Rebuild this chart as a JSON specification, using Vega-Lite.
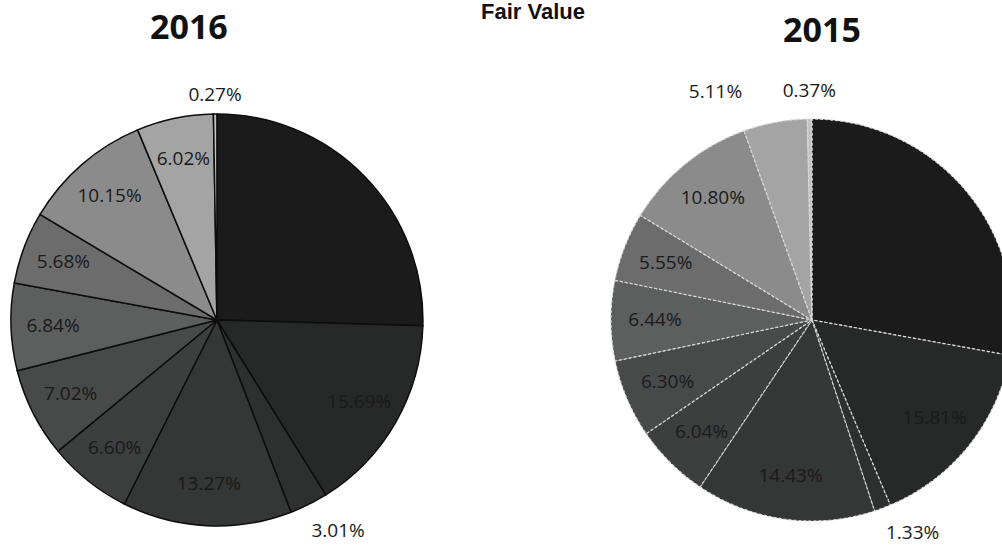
{
  "$schema": "https://vega.github.io/schema/vega-lite/v6.json",
  "width": 1002,
  "height": 462,
  "autosize": {"type": "none"},
  "padding": {"top": 89, "left": 0, "right": 0, "bottom": 0},
  "background": "#ffffff",
  "config": {"view": {"stroke": null}},
  "title": {
    "text": "Fair Value",
    "font": "Liberation Sans",
    "fontSize": 22,
    "fontWeight": "bold",
    "color": "#111111",
    "anchor": "middle",
    "frame": "group",
    "baseline": "alphabetic",
    "offset": -29,
    "dx": 32
  },
  "encoding": {
    "x": {
      "field": "year",
      "type": "nominal",
      "axis": null,
      "scale": {"type": "point", "domain": [2016, 2015], "padding": 0.342, "align": 0.533}
    }
  },
  "layer": [
    {
      "data": {
        "values": [
          {"year": 2016, "idx": 1, "pct": 0.2545},
          {"year": 2016, "idx": 2, "pct": 0.1569},
          {"year": 2016, "idx": 3, "pct": 0.0301},
          {"year": 2016, "idx": 4, "pct": 0.1327},
          {"year": 2016, "idx": 5, "pct": 0.0660},
          {"year": 2016, "idx": 6, "pct": 0.0702},
          {"year": 2016, "idx": 7, "pct": 0.0684},
          {"year": 2016, "idx": 8, "pct": 0.0568},
          {"year": 2016, "idx": 9, "pct": 0.1015},
          {"year": 2016, "idx": 10, "pct": 0.0602},
          {"year": 2016, "idx": 11, "pct": 0.0027}
        ]
      },
      "encoding": {
        "theta": {"field": "pct", "type": "quantitative", "stack": true},
        "order": {"field": "idx", "type": "quantitative"}
      },
      "layer": [
        {
          "mark": {"type": "arc", "outerRadius": 206, "stroke": "#0d0d0d", "strokeWidth": 1.5},
          "encoding": {
            "color": {
              "field": "idx",
              "type": "nominal",
              "legend": null,
              "scale": {
                "domain": [1, 2, 3, 4, 5, 6, 7, 8, 9, 10, 11],
                "range": ["#1b1b1b", "#272828", "#2e2f2f", "#353636", "#3d3e3e", "#484949", "#5d5e5e", "#6c6c6c", "#8b8b8b", "#a4a4a4", "#c4c4c4"]
              }
            }
          }
        },
        {
          "mark": {"type": "text", "radius": 164, "font": "Open Sans", "fontSize": 19, "color": "#1a1a1a", "align": "center", "baseline": "middle"},
          "encoding": {
            "detail": {"field": "idx", "type": "nominal"},
            "text": {"condition": {"test": "datum.pct >= 0.035", "field": "pct", "format": ".2%"}, "value": ""}
          }
        },
        {
          "mark": {"type": "text", "radius": 225, "font": "Open Sans", "fontSize": 19, "color": "#1a1a1a", "align": "center", "baseline": "middle"},
          "encoding": {
            "detail": {"field": "idx", "type": "nominal"},
            "text": {"condition": {"test": "datum.idx == 11", "field": "pct", "format": ".2%"}, "value": ""}
          }
        },
        {
          "mark": {"type": "text", "radius": 236, "dx": 16, "font": "Open Sans", "fontSize": 19, "color": "#1a1a1a", "align": "center", "baseline": "middle"},
          "encoding": {
            "detail": {"field": "idx", "type": "nominal"},
            "text": {"condition": {"test": "datum.idx == 3", "field": "pct", "format": ".2%"}, "value": ""}
          }
        }
      ]
    },
    {
      "data": {
        "values": [
          {"year": 2015, "idx": 1, "pct": 0.2782},
          {"year": 2015, "idx": 2, "pct": 0.1581},
          {"year": 2015, "idx": 3, "pct": 0.0133},
          {"year": 2015, "idx": 4, "pct": 0.1443},
          {"year": 2015, "idx": 5, "pct": 0.0604},
          {"year": 2015, "idx": 6, "pct": 0.0630},
          {"year": 2015, "idx": 7, "pct": 0.0644},
          {"year": 2015, "idx": 8, "pct": 0.0555},
          {"year": 2015, "idx": 9, "pct": 0.1080},
          {"year": 2015, "idx": 10, "pct": 0.0511},
          {"year": 2015, "idx": 11, "pct": 0.0037}
        ]
      },
      "encoding": {
        "theta": {"field": "pct", "type": "quantitative", "stack": true},
        "order": {"field": "idx", "type": "quantitative"}
      },
      "layer": [
        {
          "mark": {"type": "arc", "outerRadius": 201, "stroke": "#d8d8d8", "strokeWidth": 1.2, "strokeDash": [3, 2]},
          "encoding": {
            "color": {"field": "idx", "type": "nominal", "legend": null}
          }
        },
        {
          "mark": {"type": "text", "radius": 157, "font": "Open Sans", "fontSize": 19, "color": "#1a1a1a", "align": "center", "baseline": "middle"},
          "encoding": {
            "detail": {"field": "idx", "type": "nominal"},
            "text": {"condition": {"test": "datum.pct >= 0.053", "field": "pct", "format": ".2%"}, "value": ""}
          }
        },
        {
          "mark": {"type": "text", "radius": 229, "font": "Open Sans", "fontSize": 19, "color": "#1a1a1a", "align": "center", "baseline": "middle"},
          "encoding": {
            "detail": {"field": "idx", "type": "nominal"},
            "text": {"condition": {"test": "datum.idx == 11", "field": "pct", "format": ".2%"}, "value": ""}
          }
        },
        {
          "mark": {"type": "text", "radius": 230, "dx": 20, "dy": -2, "font": "Open Sans", "fontSize": 19, "color": "#1a1a1a", "align": "center", "baseline": "middle"},
          "encoding": {
            "detail": {"field": "idx", "type": "nominal"},
            "text": {"condition": {"test": "datum.idx == 3", "field": "pct", "format": ".2%"}, "value": ""}
          }
        },
        {
          "mark": {"type": "text", "radius": 227, "dx": -55, "dy": -5, "font": "Open Sans", "fontSize": 19, "color": "#1a1a1a", "align": "center", "baseline": "middle"},
          "encoding": {
            "detail": {"field": "idx", "type": "nominal"},
            "text": {"condition": {"test": "datum.idx == 10", "field": "pct", "format": ".2%"}, "value": ""}
          }
        }
      ]
    },
    {
      "data": {"values": [{"year": 2016, "title": "2016"}]},
      "mark": {"type": "text", "font": "Open Sans", "fontSize": 34, "fontWeight": "bold", "color": "#111111", "align": "center", "baseline": "alphabetic", "dx": -28, "dy": -281},
      "encoding": {"text": {"field": "title"}}
    },
    {
      "data": {"values": [{"year": 2015, "title": "2015"}]},
      "mark": {"type": "text", "font": "Open Sans", "fontSize": 34, "fontWeight": "bold", "color": "#111111", "align": "center", "baseline": "alphabetic", "dx": 10, "dy": -278},
      "encoding": {"text": {"field": "title"}}
    }
  ]
}
